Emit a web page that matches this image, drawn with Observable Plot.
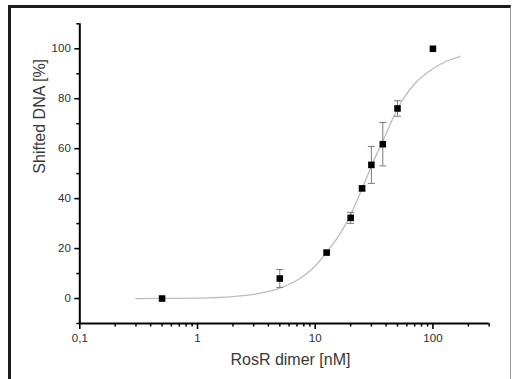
<!DOCTYPE html>
<html>
<head>
<meta charset="utf-8">
<script src="https://cdn.jsdelivr.net/npm/d3@7"></script>
<script src="https://cdn.jsdelivr.net/npm/@observablehq/plot@0.6"></script>
<style>
  html, body { margin: 0; padding: 0; background: #fff; }
  #wrap { position: relative; width: 512px; height: 379px; overflow: hidden; background: #fff; }
  #frame { position: absolute; left: 8px; top: 5px; width: 499px; height: 400px;
           border-top: 3px solid #1c1c1c; border-left: 3px solid #1c1c1c; border-right: 1px solid #9a9a9a; }
  #wrap svg { position: absolute; left: 0; top: 0; }
</style>
</head>
<body>
<div id="wrap"><div id="frame"></div></div>
<script>
// Measured data (RosR dimer concentration, % shifted DNA, error)
const conc    = [0.5, 5, 12.5, 20, 25, 30, 37.5, 50, 100];
const shifted = [0, 8, 18.4, 32.3, 44.1, 53.5, 61.8, 76.1, 100];
const errors  = [0, 3.6, 0.6, 2.2, 1.0, 7.4, 8.7, 3.1, 0];

// Fitted curve
const fitX = [0.3, 0.5, 1, 2, 3, 5, 7, 10, 12.5, 15, 20, 25, 30, 40, 50, 70, 100, 130, 170];
const fitY = [0, 0.05, 0.2, 0.8, 1.7, 4.2, 7.3, 13, 18.5, 23.5, 33.5, 44, 53, 66, 76, 86, 92, 95, 97];

// Tick values
const xMajorTicks = [0.1, 1, 10, 100];
const xMinorTicks = [0.2,0.3,0.4,0.5,0.6,0.7,0.8,0.9, 2,3,4,5,6,7,8,9, 20,30,40,50,60,70,80,90, 200,300];
const yMajorTicks = [0, 20, 40, 60, 80, 100];
const yMinorTicks = [-10, 10, 30, 50, 70, 90, 110];

const xLabel = "RosR dimer [nM]";
const yLabel = "Shifted DNA [%]";

const points = conc.map((c, i) => ({x: c, y: shifted[i], lo: shifted[i] - errors[i], hi: shifted[i] + errors[i], e: errors[i]}));
const bars = points.filter(d => d.e > 0);
const fit = fitX.map((x, i) => ({x, y: fitY[i]}));

const cap = { draw(ctx) { ctx.moveTo(-3.5, 0); ctx.lineTo(3.5, 0); } };
const fmt = d => String(d).replace(".", ",");
const font = "'Liberation Sans', Arial, Helvetica, sans-serif";

const chart = Plot.plot({
  width: 512,
  height: 379,
  marginLeft: 79.3,
  marginRight: 23.4,
  marginTop: 23.3,
  marginBottom: 56,
  style: { fontFamily: font, background: "transparent", color: "#2e2e2e" },
  x: { type: "log", domain: [0.1, 300] },
  y: { domain: [-10, 110] },
  marks: [
    Plot.line(fit, { x: "x", y: "y", stroke: "#bdbdbd", strokeWidth: 1.3, curve: "monotone-x" }),
    Plot.ruleX(bars, { x: "x", y1: "lo", y2: "hi", stroke: "#7a7a7a", strokeWidth: 1 }),
    Plot.dot(bars, { x: "x", y: "hi", symbol: cap, stroke: "#7a7a7a", strokeWidth: 1 }),
    Plot.dot(bars, { x: "x", y: "lo", symbol: cap, stroke: "#7a7a7a", strokeWidth: 1 }),
    Plot.dot(points, { x: "x", y: "y", symbol: "square", r: 3.7, fill: "#000", stroke: null }),
    Plot.ruleY([-10], { stroke: "#000", strokeWidth: 2 }),
    Plot.ruleX([0.1], { stroke: "#000", strokeWidth: 2 }),
    Plot.axisX(xMajorTicks, { tickSize: 6, tickPadding: 4, tickFormat: fmt, label: null, fontSize: 11.5, stroke: "#000", strokeWidth: 1.6, fill: "#2e2e2e" }),
    Plot.axisX(xMinorTicks, { tickSize: 3.5, tickFormat: () => "", label: null, stroke: "#000", strokeWidth: 1.5 }),
    Plot.axisY(yMajorTicks, { tickSize: 5, tickPadding: 4, label: null, fontSize: 11.5, stroke: "#000", strokeWidth: 1.6, fill: "#2e2e2e" }),
    Plot.axisY(yMinorTicks, { tickSize: 3, tickFormat: () => "", label: null, stroke: "#000", strokeWidth: 1.5 }),
    Plot.text([xLabel], { text: d => d, frameAnchor: "bottom", lineAnchor: "bottom", dy: 41, dx: 6, fontSize: 16, fill: "#383838" }),
    Plot.text([yLabel], { text: d => d, frameAnchor: "left", rotate: -90, dx: -40, fontSize: 16, fill: "#383838" })
  ]
});
document.getElementById("wrap").prepend(chart);
</script>
</body>
</html>
